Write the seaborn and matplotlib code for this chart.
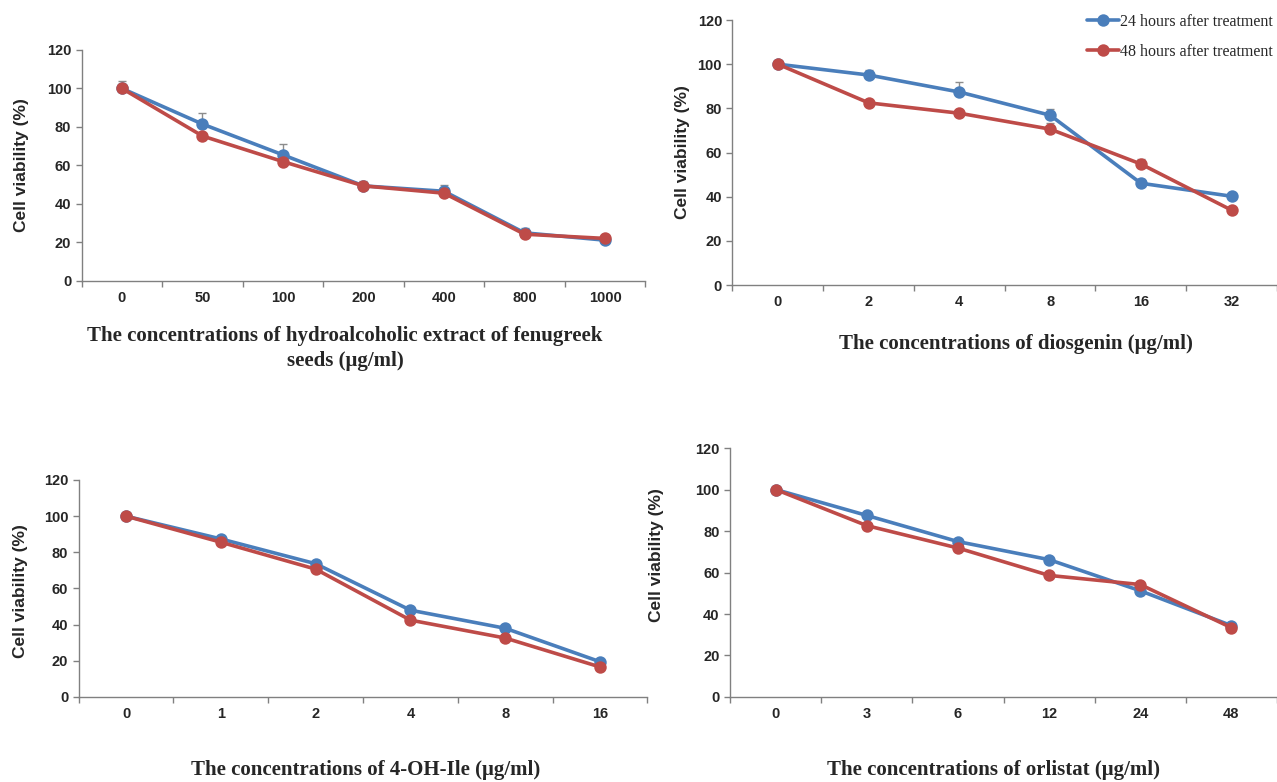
import numpy as np
import pandas as pd
import matplotlib.pyplot as plt
import seaborn as sns

# Excel-like look: white background, only left/bottom axes
sns.set_style("ticks")
plt.rcParams['font.family'] = ['Liberation Sans', 'DejaVu Sans']

series_names = ["24 hours after treatment", "48 hours after treatment"]
series_colors = ["#4A7EBB", "#BE4B48"]

# Panel A: hydroalcoholic extract of fenugreek seeds
fenugreek_conc = ["0", "50", "100", "200", "400", "800", "1000"]
fenugreek_24h = [100, 81.5, 65.5, 49.4, 46.6, 25.0, 21.2]
fenugreek_48h = [100, 75.3, 62.0, 49.4, 45.6, 24.3, 22.1]
fenugreek_24h_err = [3.8, 5.7, 5.7, 2.6, 3.0, 2.5, 0.6]
fenugreek_48h_err = [0.5, 0.8, 0.8, 0.8, 0.8, 0.8, 0.5]

# Panel B: diosgenin
diosgenin_conc = ["0", "2", "4", "8", "16", "32"]
diosgenin_24h = [100, 95.1, 87.4, 76.9, 46.1, 40.2]
diosgenin_48h = [100, 82.5, 77.8, 70.6, 54.8, 33.9]
diosgenin_24h_err = [0.5, 2.3, 4.7, 2.9, 2.0, 0.6]
diosgenin_48h_err = [0.5, 0.8, 0.8, 2.7, 2.4, 0.6]

# Panel C: 4-OH-Ile
ohile_conc = ["0", "1", "2", "4", "8", "16"]
ohile_24h = [100, 87.4, 73.7, 48.0, 38.0, 19.5]
ohile_48h = [100, 85.6, 70.7, 42.5, 32.6, 16.6]
ohile_24h_err = [0.5, 0.8, 1.0, 1.6, 0.8, 0.6]
ohile_48h_err = [0.5, 0.8, 0.8, 0.8, 0.8, 0.6]

# Panel D: orlistat
orlistat_conc = ["0", "3", "6", "12", "24", "48"]
orlistat_24h = [100, 87.5, 74.9, 66.2, 51.2, 34.4]
orlistat_48h = [100, 82.6, 71.8, 58.6, 54.2, 33.4]
orlistat_24h_err = [0.5, 0.8, 1.0, 0.8, 0.8, 0.6]
orlistat_48h_err = [0.5, 0.8, 0.8, 0.8, 0.8, 0.6]

axis_grey = "#808080"
serif_bold = dict(family=["Liberation Serif", "DejaVu Serif"], weight="bold", size=15)


def draw_panel(ax, conc, v24, v48, e24, e48, xlabel, ylab_xy, xlab_xy):
    n = len(conc)
    df = pd.DataFrame({
        "conc": conc + conc,
        "viability": v24 + v48,
        "time": [series_names[0]] * n + [series_names[1]] * n,
    })
    sns.pointplot(data=df, x="conc", y="viability", hue="time",
                  order=conc, hue_order=series_names, palette=series_colors,
                  markers="o", errorbar=None, linewidth=2.6, markersize=7,
                  ax=ax)
    # plus-only error bars, as in the original spreadsheet chart
    pos = np.arange(n)
    for vals, err in [(v24, e24), (v48, e48)]:
        ax.errorbar(pos, vals, yerr=[np.zeros(n), err], fmt="none",
                    ecolor="#8c8c8c", elinewidth=1, capsize=3, zorder=1)

    ax.set_xlim(-0.5, n - 0.5)
    ax.set_ylim(0, 120)
    ax.set_yticks(range(0, 121, 20))
    ax.set_xticks(np.arange(-0.5, n, 1), minor=True)
    ax.tick_params(axis="x", which="major", length=0, pad=7, labelsize=10.5)
    ax.tick_params(axis="x", which="minor", length=4, color=axis_grey, width=1)
    ax.tick_params(axis="y", length=4, color=axis_grey, width=1, labelsize=10.5)
    for lab in ax.get_xticklabels() + ax.get_yticklabels():
        lab.set_fontweight("bold")

    sns.despine(ax=ax)
    for side in ["left", "bottom"]:
        ax.spines[side].set_color(axis_grey)
        ax.spines[side].set_linewidth(1)

    ax.set_ylabel("Cell viability (%)", fontsize=12.5, fontweight="bold")
    ax.yaxis.set_label_coords(*ylab_xy)
    ax.set_xlabel(xlabel, fontdict=serif_bold, linespacing=1.35)
    ax.xaxis.set_label_coords(*xlab_xy)
    if ax.get_legend() is not None:
        handles, labels = ax.get_legend_handles_labels()
        ax.get_legend().remove()
        return handles, labels
    return None


fig = plt.figure(figsize=(12.77, 7.82), dpi=100)
ax1 = fig.add_axes([0.064, 0.6407, 0.4413, 0.2954])
ax2 = fig.add_axes([0.5736, 0.6355, 0.4264, 0.3389])
ax3 = fig.add_axes([0.0616, 0.1087, 0.4454, 0.2775])
ax4 = fig.add_axes([0.5717, 0.1087, 0.4283, 0.3184])

draw_panel(ax1, fenugreek_conc, fenugreek_24h, fenugreek_48h,
           fenugreek_24h_err, fenugreek_48h_err,
           "The concentrations of hydroalcoholic extract of fenugreek\nseeds (\u03bcg/ml)",
           (-0.094, 0.5), (0.467, -0.195))
handles, labels = draw_panel(ax2, diosgenin_conc, diosgenin_24h, diosgenin_48h,
                             diosgenin_24h_err, diosgenin_48h_err,
                             "The concentrations of diosgenin (\u03bcg/ml)",
                             (-0.078, 0.5), (0.521, -0.185))
draw_panel(ax3, ohile_conc, ohile_24h, ohile_48h, ohile_24h_err, ohile_48h_err,
           "The concentrations of 4-OH-Ile (\u03bcg/ml)",
           (-0.089, 0.49), (0.505, -0.29))
draw_panel(ax4, orlistat_conc, orlistat_24h, orlistat_48h,
           orlistat_24h_err, orlistat_48h_err,
           "The concentrations of orlistat (\u03bcg/ml)",
           (-0.120, 0.57), (0.481, -0.252))

fig.legend(handles, labels, loc="upper right", bbox_to_anchor=(0.997, 0.982),
           frameon=False, handlelength=2.0, handletextpad=0.1,
           borderaxespad=0, borderpad=0, labelspacing=0.85,
           prop=dict(family=["Liberation Serif", "DejaVu Serif"], size=11.5))

fig.savefig("out.png", dpi=100)
